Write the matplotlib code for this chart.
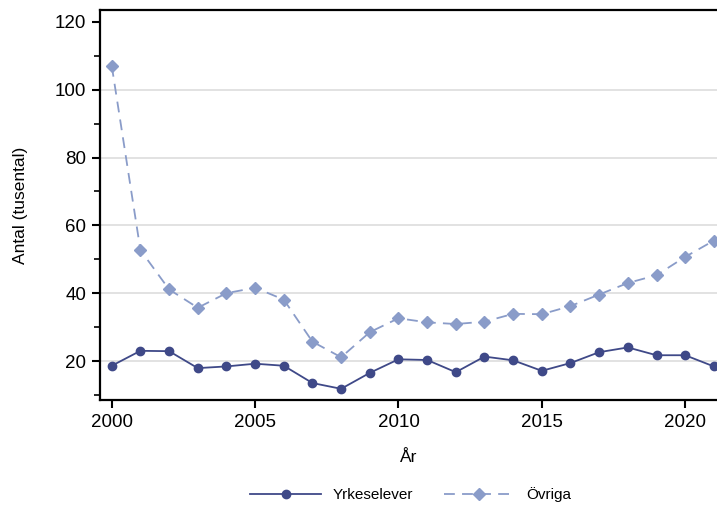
import matplotlib.pyplot as plt
from matplotlib.ticker import MultipleLocator

plt.rcParams['font.family'] = ['Liberation Sans', 'DejaVu Sans']

years = list(range(2000, 2022))
yrkeselever = [18.6, 23.0, 22.9, 17.9, 18.4, 19.2, 18.6, 13.5, 11.8, 16.5, 20.5,
               20.3, 16.7, 21.3, 20.2, 17.1, 19.4, 22.6, 24.0, 21.7, 21.7, 18.4]
ovriga = [107.0, 52.7, 41.1, 35.7, 40.0, 41.6, 38.1, 25.7, 21.1, 28.5, 32.6,
          31.4, 30.9, 31.6, 33.9, 33.8, 36.2, 39.6, 43.0, 45.3, 50.7, 55.5]

dark = '#3f4988'
light = '#8a9cc9'

fig = plt.figure(figsize=(7.17, 5.09), dpi=100)
ax = fig.add_axes([100 / 717, 1 - 400 / 509, 1 - 100 / 717, 390 / 509])

# gridlines only at 20..100
for y in [20, 40, 60, 80, 100]:
    ax.axhline(y, color='#dddddd', lw=1.2, zorder=0)

ax.plot(years, yrkeselever, color=dark, lw=1.3, marker='o', markersize=6,
        label='Yrkeselever')
ax.plot(years, ovriga, color=light, lw=1.3, ls=(0, (6, 4)), marker='D',
        markersize=6, label='Övriga')

ax.set_xlim(1999.59, 2021.11)
ax.set_ylim(8.5, 123.5)
ax.set_xticks([2000, 2005, 2010, 2015, 2020])
ax.set_yticks([20, 40, 60, 80, 100, 120])
ax.yaxis.set_minor_locator(MultipleLocator(10))

for s in ['left', 'bottom', 'top']:
    ax.spines[s].set_linewidth(1.6)
ax.spines['right'].set_visible(False)
ax.tick_params(which='major', length=6, width=1.5, labelsize=13.5, pad=4)
ax.tick_params(which='minor', length=4, width=1.2)

ax.set_xlabel('År', fontsize=12.5, labelpad=14)
ax.set_ylabel('Antal (tusental)', fontsize=12.5, labelpad=19)

fig.legend(loc='center', bbox_to_anchor=(411 / 717, 1 - 495 / 509), ncol=2,
           frameon=False, fontsize=11, handlelength=4.6, columnspacing=2.0)

fig.savefig('out.png', dpi=100)
